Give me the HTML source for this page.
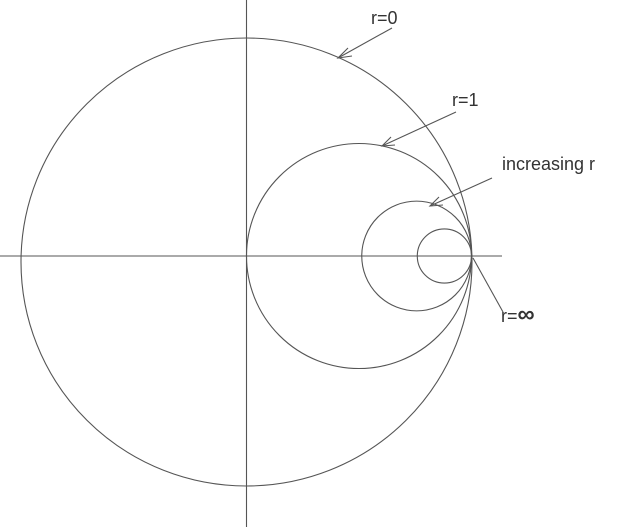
<!DOCTYPE html>
<html><head><meta charset="utf-8"><style>
body{margin:0;background:#fff}
svg{display:block}
text{font-family:"Liberation Sans",sans-serif;font-size:18px;fill:#333}
</style></head><body>
<svg width="626" height="529">
<g stroke="#555" stroke-width="1.1" fill="none">
<line x1="0" y1="256" x2="502" y2="256"/>
<line x1="246.5" y1="0" x2="246.5" y2="527"/>
<ellipse cx="246.5" cy="262" rx="225.5" ry="224"/>
<g id="circles"></g>
<polyline points="392,28 338,58"/>
<polyline points="348,48 338,58 352,56"/>
<polyline points="456,112 382,146"/>
<polyline points="391,137 382,146 395,145"/>
<polyline points="492,178 430,206"/>
<polyline points="439,197 430,206 443,205"/>
<line x1="473" y1="258" x2="503" y2="312"/>
</g>
<text x="371" y="24">r=0</text>
<text x="452" y="106">r=1</text>
<text x="502" y="170">increasing r</text>
<text x="501" y="322">r=<tspan style="font-size:24px;font-weight:bold">∞</tspan></text>
</svg>
<script>
const rValues=[1,3.1,7.3];
const R=225, cx0=246.5, cy0=256;
const g=document.getElementById('circles');
rValues.forEach(r=>{
  const rad=R/(1+r);
  const c=document.createElementNS('http://www.w3.org/2000/svg','circle');
  
  
  c.setAttribute('cx',cx0+R-rad);
  c.setAttribute('cy',cy0);
  c.setAttribute('r',rad);
  g.appendChild(c);
});
</script>
</body></html>
